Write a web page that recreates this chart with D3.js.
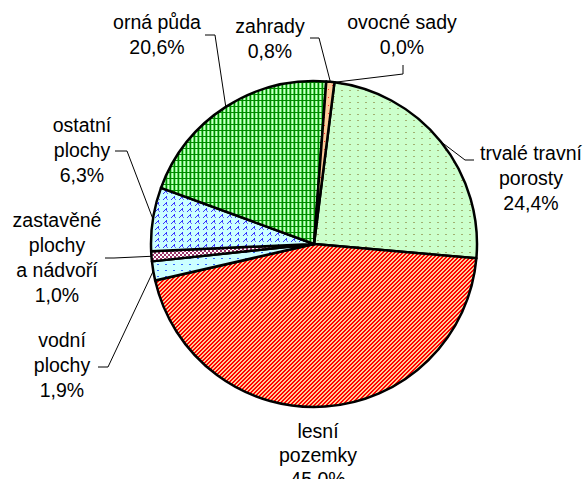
<!DOCTYPE html>
<html>
<head>
<meta charset="utf-8">
<script src="https://cdn.jsdelivr.net/npm/d3@7"></script>
<style>
  body { margin: 0; background: #fff; }
  svg { display: block; }
  .lbl { font-family: "Liberation Sans", Arial, sans-serif; font-size: 19.5px; fill: #000; }
</style>
</head>
<body>
<div id="chart"></div>
<script>
var width = 587;
var height = 479;

// data
var categories = ["ovocné sady", "trvalé travní porosty", "lesní pozemky", "vodní plochy",
  "zastavěné plochy a nádvoří", "ostatní plochy", "orná půda", "zahrady"];
var values = [0.0, 24.4, 45.0, 1.9, 1.0, 6.3, 20.6, 0.8];
var labelLines = [["ovocné sady"], ["trvalé travní", "porosty"], ["lesní", "pozemky"], ["vodní", "plochy"],
  ["zastavěné", "plochy", "a nádvoří"], ["ostatní", "plochy"], ["orná půda"], ["zahrady"]];

// layout of labels: center x, first baseline, line step, leader start + elbow (null = no leader)
var labelPos = [
  { x: 402, y: 29, step: 25, lead: [[403, 65], [403, 74]] },
  { x: 531, y: 160, step: 25, lead: [[474, 160], [465, 160]] },
  { x: 318, y: 438, step: 24, lead: null },
  { x: 62, y: 347, step: 25, lead: [[98, 367], [108, 367]] },
  { x: 57, y: 227, step: 25, lead: [[105, 258], [114, 258]] },
  { x: 82, y: 132, step: 25, lead: [[115, 151], [127, 151]] },
  { x: 157, y: 29, step: 25, lead: [[205, 35], [215, 35]] },
  { x: 270, y: 33, step: 25, lead: [[310, 38], [319, 38]] }
];

var cx = 314, cy = 244, radius = 163;
var startDeg = 7.2;

var svg = d3.select("#chart").append("svg")
  .attr("width", width)
  .attr("height", height);

var defs = svg.append("defs");

// helper for pixel patterns
function makePattern(id, w, h, bg, pixels) {
  var p = defs.append("pattern")
    .attr("id", id)
    .attr("patternUnits", "userSpaceOnUse")
    .attr("width", w)
    .attr("height", h);
  p.append("rect").attr("width", w).attr("height", h).attr("fill", bg);
  pixels.forEach(function (px) {
    p.append("rect")
      .attr("x", px[0]).attr("y", px[1])
      .attr("width", px[2]).attr("height", px[3])
      .attr("fill", px[4])
      .attr("shape-rendering", "crispEdges");
  });
}

// orná půda - green grid
makePattern("pOrna", 4, 6, "#ccffcc", [
  [1, 0, 1, 6, "#88ee88"],
  [3, 0, 1, 6, "#55dd55"],
  [0, 0, 1, 6, "#008800"],
  [0, 0, 4, 1, "#008800"]
]);
// zahrady - peach with red dots
makePattern("pZahrady", 8, 8, "#ffcc99", [
  [2, 1, 1, 1, "#ff3333"],
  [6, 5, 1, 1, "#ff3333"]
]);
// ovocné sady
makePattern("pOvocne", 4, 4, "#ffff99", []);
// trvalé travní porosty - light green with small dashes
makePattern("pTrvale", 8, 6, "#ccffcc", [
  [3, 2, 2, 1, "#a0b070"]
]);
// lesní pozemky - red/peach diagonal steps
var lesPx = [];
for (var yy = 0; yy < 4; yy++) {
  for (var xx = 0; xx < 4; xx++) {
    if ((xx + yy) % 4 < 2) lesPx.push([xx, yy, 1, 1, "#ff0000"]);
  }
}
makePattern("pLesni", 4, 4, "#ffcc99", lesPx);
// vodní plochy - light cyan with blue dots
makePattern("pVodni", 8, 6, "#ccffff", [
  [3, 2, 2, 1, "#3366ff"]
]);
// zastavěné plochy - purple checker
makePattern("pZastav", 4, 4, "#ffffff", [
  [0, 0, 2, 2, "#993366"],
  [2, 2, 2, 2, "#993366"]
]);
// ostatní plochy - cyan with blue marks
makePattern("pOstatni", 8, 6, "#ccffff", [
  [4, 0, 1, 1, "#3333ff"],
  [3, 1, 2, 1, "#3333ff"],
  [2, 2, 1, 1, "#3333ff"],
  [4, 2, 1, 1, "#6666ff"],
  [1, 3, 1, 1, "#3333ff"],
  [5, 3, 1, 1, "#6666ff"]
]);

var fills = ["url(#pOvocne)", "url(#pTrvale)", "url(#pLesni)", "url(#pVodni)",
  "url(#pZastav)", "url(#pOstatni)", "url(#pOrna)", "url(#pZahrady)"];

var pie = d3.pie()
  .sort(null)
  .value(function (d) { return d; })
  .startAngle(startDeg * Math.PI / 180)
  .endAngle((startDeg + 360) * Math.PI / 180);

var arc = d3.arc().innerRadius(0).outerRadius(radius);

var arcs = pie(values);

var g = svg.append("g").attr("transform", "translate(" + cx + "," + cy + ")");

g.selectAll("path")
  .data(arcs)
  .enter()
  .append("path")
  .attr("d", arc)
  .attr("fill", function (d, i) { return fills[i]; })
  .attr("stroke", "#000")
  .attr("stroke-width", 2.5)
  .attr("stroke-linejoin", "round");

// leader lines + labels
var fmt = d3.format(".1f");

arcs.forEach(function (a, i) {
  var pos = labelPos[i];
  if (pos.lead) {
    var mid = (a.startAngle + a.endAngle) / 2;
    var px = cx + radius * Math.sin(mid);
    var py = cy - radius * Math.cos(mid);
    svg.append("polyline")
      .attr("points", [pos.lead[0], pos.lead[1], [px, py]].map(function (p) { return p.join(","); }).join(" "))
      .attr("fill", "none")
      .attr("stroke", "#000")
      .attr("stroke-width", 1);
  }

  var lines = labelLines[i].concat([fmt(values[i]).replace(".", ",") + "%"]);
  var t = svg.append("text")
    .attr("class", "lbl")
    .attr("text-anchor", "middle");
  lines.forEach(function (ln, k) {
    t.append("tspan")
      .attr("x", pos.x)
      .attr("y", pos.y + k * pos.step)
      .text(ln);
  });
});
</script>
</body>
</html>
